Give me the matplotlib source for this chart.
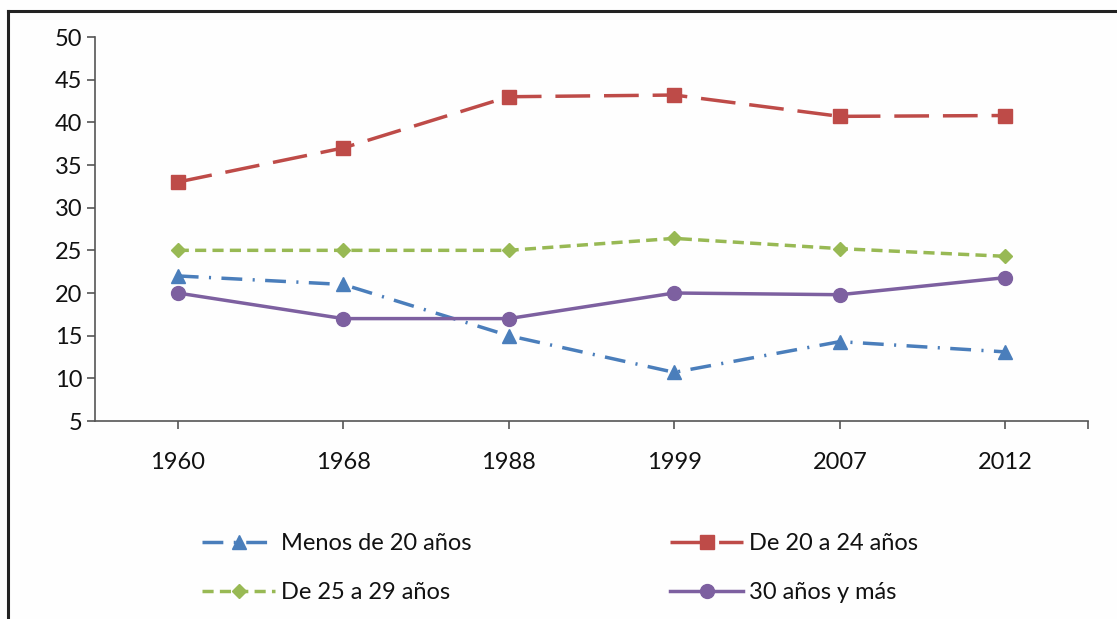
import matplotlib
matplotlib.use("Agg")
import matplotlib.pyplot as plt
from matplotlib.lines import Line2D

plt.rcParams['font.family'] = ['Lato', 'DejaVu Sans']

# datos
years = ['1960', '1968', '1988', '1999', '2007', '2012']
menos_20 = [22, 21, 15, 10.7, 14.3, 13.1]
de_20_24 = [33, 37, 43, 43.2, 40.7, 40.8]
de_25_29 = [25, 25, 25, 26.4, 25.2, 24.3]
mas_30 = [20, 17, 17, 20, 19.8, 21.8]
y_ticks = [5, 10, 15, 20, 25, 30, 35, 40, 45, 50]

W, H = 1117, 619
fig = plt.figure(figsize=(W / 100, H / 100), dpi=100)
fig.patch.set_facecolor('#fefefe')

# marco (solo arriba e izquierda visibles)
fig.add_artist(Line2D([8 / W, 8 / W], [0, 1 - 11 / H], color='#222222', lw=2.2,
                      transform=fig.transFigure))
fig.add_artist(Line2D([8 / W, 1], [1 - 11 / H, 1 - 11 / H], color='#222222', lw=2.2,
                      transform=fig.transFigure))

ax = fig.add_axes([95 / W, 1 - 421 / H, (1088 - 95) / W, (421 - 37) / H])
ax.set_facecolor('#fefefe')
x = list(range(len(years)))

lw = 2.5
l1, = ax.plot(x, menos_20, color='#4a7ebb', lw=lw, dashes=(6, 3, 0.6, 3),
              marker='^', ms=10, label='Menos de 20 años')
l2, = ax.plot(x, de_20_24, color='#be4b48', lw=lw, dashes=(10, 4),
              marker='s', ms=9.5, label='De 20 a 24 años')
l3, = ax.plot(x, de_25_29, color='#98b954', lw=lw, dashes=(3.2, 1.8),
              marker='D', ms=7, label='De 25 a 29 años')
l4, = ax.plot(x, mas_30, color='#7d60a0', lw=lw, marker='o', ms=10,
              label='30 años y más')

ax.set_xlim(-0.5, len(years) - 0.5)
ax.set_ylim(5, 50)
ax.set_yticks(y_ticks)
ax.set_xticks(x)
ax.set_xticklabels(years)
ax.set_xticks([len(years) - 0.5], minor=True)
for s in ['top', 'right']:
    ax.spines[s].set_visible(False)
for s in ['left', 'bottom']:
    ax.spines[s].set_color('#555555')
    ax.spines[s].set_linewidth(1.2)
ax.tick_params(axis='both', which='both', length=6, width=1.2, color='#555555',
               labelsize=17, labelcolor='#111111')
ax.tick_params(axis='x', pad=16)
ax.tick_params(axis='y', pad=3)

leg = fig.legend([l1, l3, l2, l4],
                 [l1.get_label(), l3.get_label(), l2.get_label(), l4.get_label()],
                 ncol=2, loc='upper left', bbox_to_anchor=(202 / W, 1 - 533 / H),
                 frameon=False, fontsize=17, handlelength=3.1, handletextpad=0.25,
                 labelspacing=1.2, columnspacing=8.4, borderpad=0, borderaxespad=0)
for t in leg.get_texts():
    t.set_color('#111111')

fig.savefig('out.png', dpi=100, facecolor=fig.get_facecolor())
